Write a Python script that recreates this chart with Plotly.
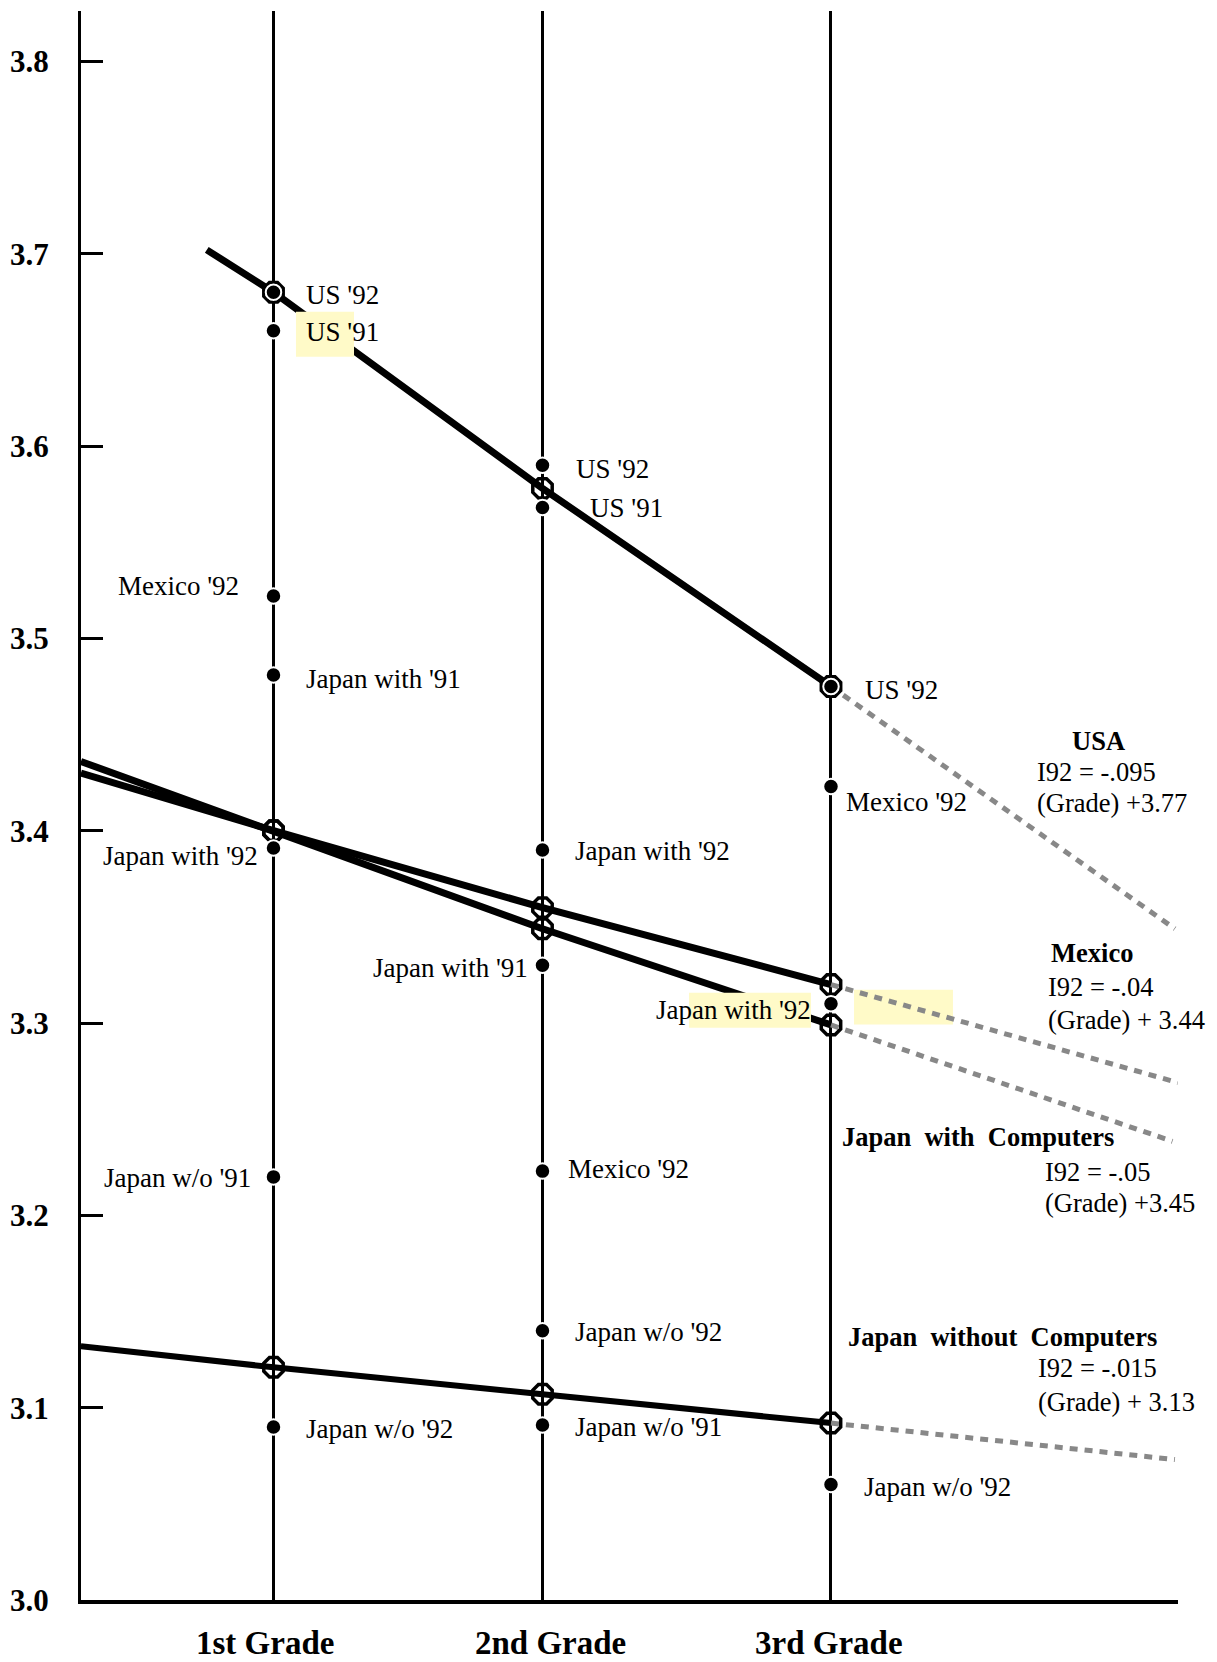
import plotly.graph_objects as go

# ---------------- data ----------------
grades = ["1st Grade", "2nd Grade", "3rd Grade"]
grade_x = [1.0, 2.0, 3.0725]          # horizontal position of each grade column

y_ticks = [3.0, 3.1, 3.2, 3.3, 3.4, 3.5, 3.6, 3.7, 3.8]

# observed values per grade (None = no observation)
us_92 = [3.680, 3.590, 3.475]
us_91 = [3.660, 3.568, None]
mexico_92 = [3.522, 3.223, 3.423]
japan_with_91 = [3.481, 3.330, None]
japan_with_92 = [3.391, 3.390, 3.310]
japan_wo_91 = [3.220, 3.091, None]
japan_wo_92 = [3.090, 3.140, 3.060]

series_names = ["US '92", "US '91", "Mexico '92", "Japan with '91",
                "Japan with '92", "Japan w/o '91", "Japan w/o '92"]
series_values = [us_92, us_91, mexico_92, japan_with_91,
                 japan_with_92, japan_wo_91, japan_wo_92]

# fitted regression values per grade
fit_usa = [3.680, 3.578, 3.475]
fit_mexico = [3.400, 3.360, 3.320]
fit_japan_with = [3.400, 3.349, 3.299]
fit_japan_wo = [3.121, 3.107, 3.092]
fits = [fit_usa, fit_mexico, fit_japan_with, fit_japan_wo]

# solid line start (x, y) and projected dotted end (x, y)
fit_start_x = [0.752, 0.284, 0.284, 0.284]
fit_start_y = [3.702, 3.430, 3.436, 3.132]
fit_end_x = [4.351, 4.362, 4.342, 4.351]
fit_end_y = [3.349, 3.269, 3.2385, 3.073]

eq_titles = ["USA", "Mexico", "Japan&nbsp; with&nbsp; Computers",
             "Japan&nbsp; without&nbsp; Computers"]
eq_line1 = ["I92 = -.095", "I92 = -.04", "I92 = -.05", "I92 = -.015"]
eq_line2 = ["(Grade) +3.77", "(Grade) + 3.44", "(Grade) +3.45", "(Grade) + 3.13"]

# ---------------- styles / placement ----------------
FONT = "Liberation Serif, 'Times New Roman', Times, serif"
PAGE_OFF = 8                      # default body margin of the html page
W, H = 1217 - PAGE_OFF, 1662 - PAGE_OFF
PL, PR, PT, PB = 81, 1178, 11, 1600          # plot area in screen pixels
ML, MT = PL - PAGE_OFF, PT - PAGE_OFF
MR, MB = W - (PR - PAGE_OFF), H - (PB - PAGE_OFF)

# label placement: (side, dx px, dy px)  side 'r' = text to the right of point
placement = {
    ("US '92", 0): ("r", 31, -3), ("US '92", 1): ("r", 32, -4), ("US '92", 2): ("r", 32, -4),
    ("US '91", 0): ("r", 31, -1), ("US '91", 1): ("r", 46, 0),
    ("Mexico '92", 0): ("l", 32, 10), ("Mexico '92", 1): ("r", 24, 2), ("Mexico '92", 2): ("r", 13, -16),
    ("Japan with '91", 0): ("r", 31, -4), ("Japan with '91", 1): ("l", 12, -3),
    ("Japan with '92", 0): ("l", 13, -8), ("Japan with '92", 1): ("r", 31, -1), ("Japan with '92", 2): ("l", 18, -6),
    ("Japan w/o '91", 0): ("l", 20, -1), ("Japan w/o '91", 1): ("r", 31, -2),
    ("Japan w/o '92", 0): ("r", 31, -2), ("Japan w/o '92", 1): ("r", 31, -1), ("Japan w/o '92", 2): ("r", 31, -2),
}
grade_label_shift = [-8, 8, -2]


def px_x(p):
    return (p - PL) / (PR - PL)


def px_y(p):
    return (PB - p) / (PB - PT)


fig = go.Figure()

# fitted lines (solid) and their projections (dotted)
for i, (sx, sy, vals, ex, ey) in enumerate(zip(fit_start_x, fit_start_y, fits, fit_end_x, fit_end_y)):
    fig.add_trace(go.Scatter(x=[sx] + grade_x, y=[sy] + vals, mode="lines",
                             line=dict(color="black", width=7 if i < 3 else 6),
                             hoverinfo="skip"))
    fig.add_trace(go.Scatter(x=[grade_x[-1], ex], y=[vals[-1], ey], mode="lines",
                             line=dict(color="#888888", width=5, dash="8px,7px"),
                             hoverinfo="skip"))

# fitted value markers
for vals in fits:
    fig.add_trace(go.Scatter(x=grade_x, y=vals, mode="markers",
                             marker=dict(symbol="octagon-open", size=21, color="black",
                                         line=dict(width=3.5, color="black"))))

# observed points
for name, vals in zip(series_names, series_values):
    xs = [gx for gx, v in zip(grade_x, vals) if v is not None]
    ys = [v for v in vals if v is not None]
    fig.add_trace(go.Scatter(x=xs, y=ys, mode="markers", name=name,
                             marker=dict(symbol="circle", size=15.5, color="black",
                                         line=dict(width=2, color="white"))))

annotations = []
for name, vals in zip(series_names, series_values):
    for gi, v in enumerate(vals):
        if v is None:
            continue
        side, dx, dy = placement[(name, gi)]
        annotations.append(dict(
            x=grade_x[gi], y=v, xref="x", yref="y", text=name, showarrow=False,
            xanchor="left" if side == "r" else "right", yanchor="middle",
            xshift=dx if side == "r" else -dx, yshift=dy,
            font=dict(family=FONT, size=27, color="black")))

# grade labels under the axis
for gx, g, sh in zip(grade_x, grades, grade_label_shift):
    annotations.append(dict(x=gx, y=0, xref="x", yref="paper", text=f"<b>{g}</b>",
                            showarrow=False, xanchor="center", yanchor="middle",
                            xshift=sh, yshift=-43,
                            font=dict(family=FONT, size=33, color="black")))

# equation blocks: (title anchor, title x, title y, eq left x, line1 y, line2 y)  screen px
eq_pos = [
    ("center", 1098, 741, 1035, 772, 803),
    ("center", 1092, 953, 1046, 987, 1020),
    ("left", 840, 1137, 1043, 1172, 1203),
    ("left", 846, 1337, 1036, 1368, 1402),
]
for title, l1, l2, (anc, tx, ty, ex, y1, y2) in zip(eq_titles, eq_line1, eq_line2, eq_pos):
    annotations.append(dict(x=px_x(tx), y=px_y(ty), xref="paper", yref="paper",
                            text=f"<b>{title}</b>", showarrow=False, xanchor=anc,
                            yanchor="middle", font=dict(family=FONT, size=26.5, color="black")))
    for txt, yy in ((l1, y1), (l2, y2)):
        annotations.append(dict(x=px_x(ex), y=px_y(yy), xref="paper", yref="paper",
                                text=txt, showarrow=False, xanchor="left", yanchor="middle",
                                font=dict(family=FONT, size=26.5, color="black")))

HL = "#FFFAC8"
shapes = [
    dict(type="rect", xref="x", yref="y", x0=1.0836, x1=1.2993, y0=3.6464, y1=3.6698,
         fillcolor=HL, line=dict(width=0), layer="above"),
    dict(type="rect", xref="x", yref="y", x0=2.5446, x1=2.998, y0=3.2976, y1=3.3158,
         fillcolor=HL, line=dict(width=0), layer="above"),
    dict(type="rect", xref="x", yref="y", x0=3.158, x1=3.526, y0=3.2992, y1=3.3173,
         fillcolor=HL, line=dict(width=0), layer="below"),
]

fig.update_layout(
    width=W, height=H,
    margin=dict(l=ML, r=MR, t=MT, b=MB, autoexpand=False),
    plot_bgcolor="white", paper_bgcolor="white",
    showlegend=False,
    font=dict(family=FONT, color="black"),
    annotations=annotations,
    shapes=shapes,
    xaxis=dict(range=[0.2844, 4.3625], tickvals=grade_x, showticklabels=False,
               showgrid=True, gridcolor="black", gridwidth=2.5, automargin=False,
               zeroline=False, showline=True, linecolor="black", linewidth=3.5,
               ticks=""),
    yaxis=dict(range=[3.0, 3.8262], tickvals=y_ticks,
               ticktext=[f"<b>{t:.1f}</b>" for t in y_ticks],
               tickfont=dict(family=FONT, size=31, color="black"),
               showgrid=False, zeroline=False, showline=True, linecolor="black",
               linewidth=3, ticks="inside", ticklen=22, tickwidth=3, tickcolor="black",
               ticklabelstandoff=23, automargin=False),
)

fig.write_html("out.html")
